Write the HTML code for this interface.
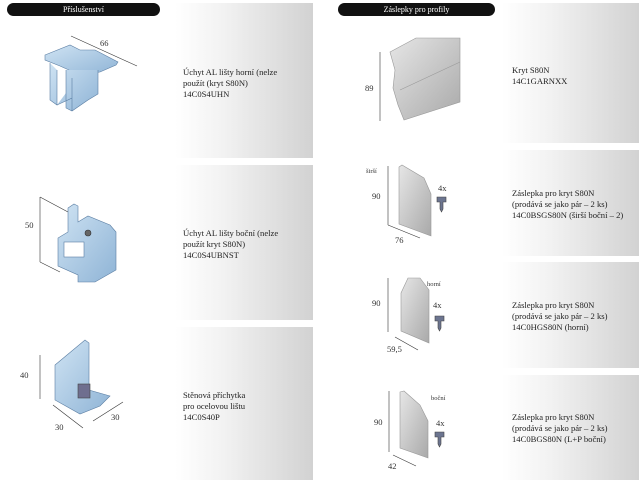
<!DOCTYPE html>
<html><head><meta charset="utf-8"><style>
body{margin:0;width:639px;height:480px;background:#fff;overflow:hidden;position:relative;font-family:"Liberation Serif",serif;}
.p{position:absolute;background:linear-gradient(to right,#fff 0%,#f2f2f2 35%,#d2d2d2 100%);}
.t{position:absolute;font-size:8.6px;line-height:11px;color:#222;}
.pill{position:absolute;background:#111;color:#fff;border-radius:7px;height:13px;font-size:8px;line-height:13px;text-align:center;}
svg{position:absolute;left:0;top:0;}
</style></head><body>
<div class="pill" style="left:7px;top:3px;width:153px">Příslušenství</div>
<div class="pill" style="left:338px;top:3px;width:157px">Záslepky pro profily</div>

<div class="p" style="left:175px;top:3px;width:138px;height:155px"></div>
<div class="p" style="left:175px;top:165px;width:138px;height:155px"></div>
<div class="p" style="left:175px;top:327px;width:138px;height:153px"></div>
<div class="p" style="left:502px;top:3px;width:137px;height:140px"></div>
<div class="p" style="left:502px;top:150px;width:137px;height:106px"></div>
<div class="p" style="left:502px;top:262px;width:137px;height:106px"></div>
<div class="p" style="left:502px;top:375px;width:137px;height:105px"></div>

<div class="t" style="left:183px;top:67px">Úchyt AL lišty horní (nelze<br>použít (kryt S80N)<br>14C0S4UHN</div>
<div class="t" style="left:183px;top:228px">Úchyt AL lišty boční (nelze<br>použít kryt S80N)<br>14C0S4UBNST</div>
<div class="t" style="left:183px;top:390px">Stěnová příchytka<br>pro ocelovou lištu<br>14C0S40P</div>
<div class="t" style="left:512px;top:65px">Kryt S80N<br>14C1GARNXX</div>
<div class="t" style="left:512px;top:188px">Záslepka pro kryt S80N<br>(prodává se jako pár – 2 ks)<br>14C0BSGS80N (širší boční – 2)</div>
<div class="t" style="left:512px;top:300px">Záslepka pro kryt S80N<br>(prodává se jako pár – 2 ks)<br>14C0HGS80N (horní)</div>
<div class="t" style="left:512px;top:412px">Záslepka pro kryt S80N<br>(prodává se jako pár – 2 ks)<br>14C0BGS80N (L+P boční)</div>

<svg width="639" height="480" viewBox="0 0 639 480" font-family="Liberation Serif,serif" font-size="8.5" fill="#333">
<defs><linearGradient id="bl" x1="0" y1="0" x2="1" y2="1"><stop offset="0" stop-color="#cfe3f3"/><stop offset="1" stop-color="#8fb4d6"/></linearGradient>
<linearGradient id="gr" x1="0" y1="0" x2="1" y2="1"><stop offset="0" stop-color="#e6e6e6"/><stop offset="1" stop-color="#a9a9a9"/></linearGradient></defs>
<g stroke="#333" stroke-width="0.6" fill="none">
<!-- bracket 1 -->
<line x1="71" y1="36" x2="137" y2="66"/><text x="100" y="46" stroke="none" fill="#333">66</text>
<path d="M45 55 L70 45 L80 50 L95 50 L118 62 L116 65 L100 72 L80 75 L60 66 L45 60 Z" fill="url(#bl)" stroke="#5b7ea3"/>
<path d="M50 63 L50 100 L57 105 L57 70 M57 105 L72 98 L72 85 M66 70 L66 108 L72 111 L88 100 L98 94 L98 70 M72 111 L72 78" fill="url(#bl)" stroke="#5b7ea3"/>
<!-- bracket 2 -->
<line x1="40" y1="197" x2="40" y2="262"/><line x1="40" y1="197" x2="68" y2="212"/><line x1="40" y1="262" x2="60" y2="272"/>
<text x="25" y="228" stroke="none" fill="#333">50</text>
<path d="M68 208 L74 204 L78 206 L78 222 L88 216 L110 225 L116 232 L116 270 L95 282 L78 282 L78 275 L58 266 L58 238 L68 232 Z" fill="url(#bl)" stroke="#5b7ea3"/>
<rect x="64" y="242" width="20" height="15" fill="#fff" stroke="#5b7ea3"/>
<circle cx="88" cy="233" r="3" fill="#666"/>
<!-- bracket 3 -->
<line x1="40" y1="355" x2="40" y2="399"/><text x="20" y="378" stroke="none" fill="#333">40</text>
<line x1="53" y1="405" x2="83" y2="428"/><text x="55" y="430" stroke="none" fill="#333">30</text>
<line x1="93" y1="421" x2="123" y2="402"/><text x="111" y="420" stroke="none" fill="#333">30</text>
<path d="M55 365 L85 340 L89 343 L89 390 L110 396 L100 406 L80 414 L55 400 Z" fill="url(#bl)" stroke="#5b7ea3"/>
<rect x="78" y="384" width="12" height="14" fill="#6f6f8f" stroke="#444"/>
<!-- kryt -->
<line x1="380" y1="52" x2="380" y2="121"/><text x="365" y="91" stroke="none" fill="#333">89</text>
<path d="M390 52 L416 38 L460 38 L460 102 L404 120 L398 105 L393 88 L395 70 Z" fill="url(#gr)" stroke="#999"/>
<line x1="400" y1="90" x2="460" y2="62" stroke="#999"/>
<!-- caps -->
<text x="366" y="173" stroke="none" fill="#333" font-size="6.5">širší</text>
<line x1="388" y1="166" x2="388" y2="225"/><text x="372" y="199" stroke="none" fill="#333">90</text>
<line x1="388" y1="225" x2="420" y2="238"/><text x="395" y="243" stroke="none" fill="#333">76</text>
<path d="M399 167 L402 165 L424 178 L431 194 L431 236 L399 224 Z" fill="url(#gr)" stroke="#999"/>
<text x="438" y="191" stroke="none" fill="#333">4x</text>
<path d="M437 197 h9 v5 h-3 v7 l-1.5 3 l-1.5 -3 v-7 h-3z" fill="#6c7590" stroke="#444"/>
<text x="427" y="286" stroke="none" fill="#333" font-size="6.5">horní</text>
<line x1="388" y1="278" x2="388" y2="332"/><text x="372" y="306" stroke="none" fill="#333">90</text>
<line x1="395" y1="337" x2="418" y2="350"/><text x="387" y="352" stroke="none" fill="#333">59,5</text>
<path d="M408 278 L420 278 L429 290 L429 343 L401 331 L401 293 Z" fill="url(#gr)" stroke="#999"/>
<text x="433" y="308" stroke="none" fill="#333">4x</text>
<path d="M435 316 h9 v5 h-3 v7 l-1.5 3 l-1.5 -3 v-7 h-3z" fill="#6c7590" stroke="#444"/>
<text x="431" y="400" stroke="none" fill="#333" font-size="6.5">boční</text>
<line x1="389" y1="391" x2="389" y2="452"/><text x="374" y="425" stroke="none" fill="#333">90</text>
<line x1="393" y1="455" x2="416" y2="466"/><text x="388" y="469" stroke="none" fill="#333">42</text>
<path d="M400 392 L404 391 L420 405 L428 421 L428 458 L400 448 Z" fill="url(#gr)" stroke="#999"/>
<text x="436" y="426" stroke="none" fill="#333">4x</text>
<path d="M435 432 h9 v5 h-3 v7 l-1.5 3 l-1.5 -3 v-7 h-3z" fill="#6c7590" stroke="#444"/>
</g>
</svg>
</body></html>
